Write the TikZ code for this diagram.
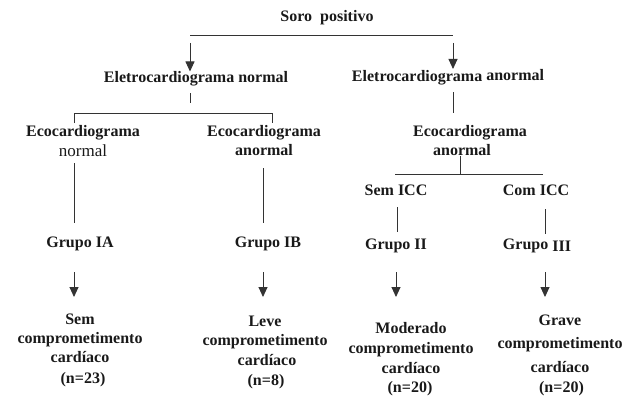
\documentclass[tikz,border=0pt]{standalone}
\usepackage{fontspec}
\setmainfont{Liberation Serif}
\usetikzlibrary{arrows.meta}
\begin{document}
\begin{tikzpicture}[x=1pt,y=-1pt,
  lbl/.style={font=\bfseries\fontsize{16}{19}\selectfont, align=center, inner sep=0pt, text=black!90},
  ln/.style={line width=0.9pt, draw=black!80},
  arr/.style={ln, -{Triangle[width=9pt,length=10pt]}}]
\useasboundingbox (0,0) rectangle (629,396);
% top
\node[lbl] (soro) at (327,18) {Soro\ \ positivo};
\node[lbl] (ecgn) at (196,79) {Eletrocardiograma normal};
\node[lbl] (ecga) at (448,77) {Eletrocardiograma \raisebox{1pt}{anormal}};
\coordinate (tl) at (190,35); \coordinate (tr) at (453,35);
\draw[ln] (tl) -- (tr);
\coordinate (al) at (190,43); \coordinate (ar) at (453,43);
\draw[arr] (al) -- (al |- ecgn.north);
\draw[arr] (ar) -- (ar |- ecga.north);
% left branch
\coordinate (sl1) at (190,93); \coordinate (sl2) at (190,103);
\draw[ln] (sl1) -- (sl2);
\coordinate (bl) at (74,113); \coordinate (br) at (272,113);
\draw[ln] (74,123) -- (bl) -- (br) -- (272,123);
\node[lbl] (econ) at (83,141) {Ecocardiograma\\[1pt]{\mdseries\fontsize{17}{19}\selectfont normal}};
\node[lbl] (ecoa1) at (264,141) {Ecocardiograma\\anormal};
\coordinate (v1a) at (74,163); \coordinate (v1b) at (74,223);
\coordinate (v2a) at (263,168); \coordinate (v2b) at (263,223);
\draw[ln] (v1a) -- (v1b);
\draw[ln] (v2a) -- (v2b);
\node[lbl] (g1a) at (80,244) {Grupo IA};
\node[lbl] (g1b) at (268,244) {Grupo IB};
\coordinate (a1) at (74,272); \coordinate (a1e) at (74,297);
\coordinate (a2) at (263,272); \coordinate (a2e) at (263,297);
\node[lbl] (r1) at (80,350) {Sem\\comprometimento\\cardíaco\\[2pt]\hspace*{6pt}(n=23)};
\node[lbl] (r2) at (265,352) {Leve\\comprometimento\\[1pt]\hspace*{4pt}cardíaco\\[1pt]\hspace*{2pt}(n=8)};
\draw[arr] (a1) -- (a1e);
\draw[arr] (a2) -- (a2e);
% right branch
\coordinate (sr1) at (453,92); \coordinate (sr2) at (453,113);
\draw[ln] (sr1) -- (sr2);
\node[lbl] (ecoa2) at (470,141) {Ecocardiograma\\\hspace*{-16pt}anormal};
\coordinate (st) at (460,174);
\draw[ln] (ecoa2.south -| st) -- (st);
\coordinate (cl) at (395,174); \coordinate (cr) at (543,174);
\draw[ln] (cl) -- (cr);
\node[lbl] (semicc) at (396,190) {Sem ICC};
\node[lbl] (comicc) at (536,190) {Com ICC};
\coordinate (v3a) at (397,207); \coordinate (v3b) at (397,232);
\coordinate (v4a) at (545,209); \coordinate (v4b) at (545,234);
\draw[ln] (v3a) -- (v3b);
\draw[ln] (v4a) -- (v4b);
\node[lbl] (g2) at (396,246) {Grupo II};
\node[lbl] (g3) at (537,246) {Grupo \raisebox{-2pt}{III}};
\coordinate (a3) at (396,272); \coordinate (a3e) at (396,297);
\coordinate (a4) at (545,272); \coordinate (a4e) at (545,297);
\node[lbl] (r3) at (411,359) {Moderado\\[1pt]comprometimento\\[1pt]cardíaco\\\hspace*{-2pt}(n=20)};
\node[lbl] (r4) at (560,355) {Grave\\[4pt]comprometimento\\[5pt]cardíaco\\[1pt]\hspace*{3pt}(n=20)};
\draw[arr] (a3) -- (a3e);
\draw[arr] (a4) -- (a4e);
\end{tikzpicture}
\end{document}
